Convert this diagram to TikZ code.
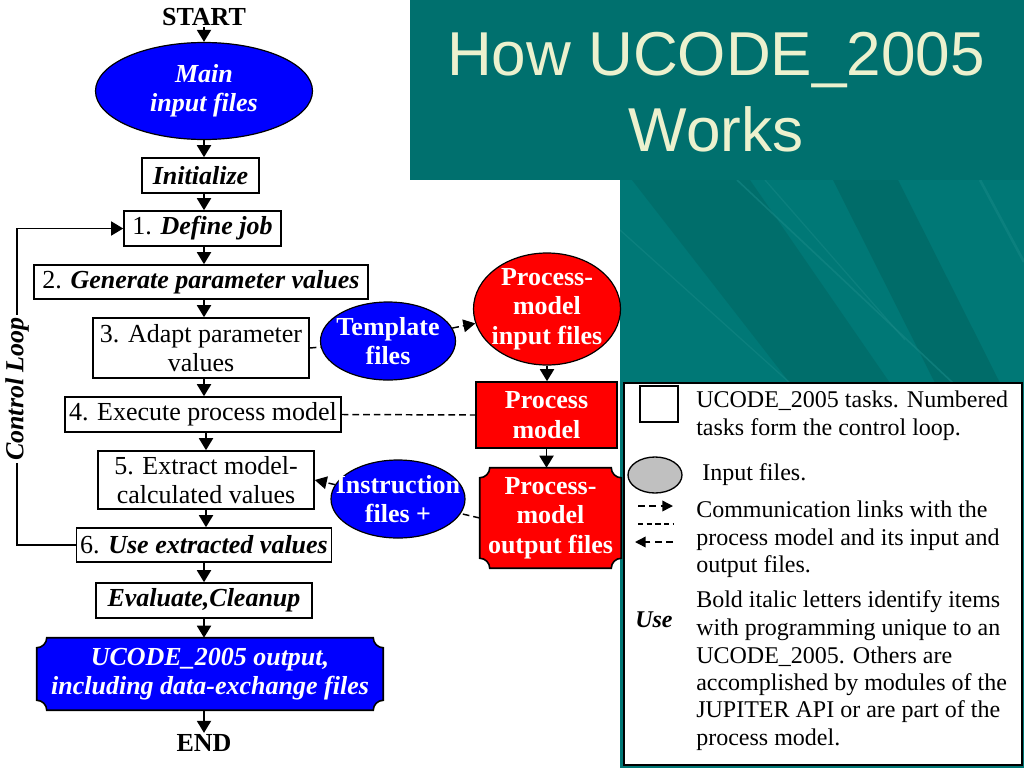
\documentclass[tikz,border=0pt]{standalone}
\usepackage{fontspec}
\setmainfont{Liberation Serif}
\newfontfamily\ttlfont{Liberation Sans}
\usetikzlibrary{shapes.geometric,arrows.meta,backgrounds}
\definecolor{tealA}{RGB}{0,112,110}
\definecolor{tealB}{RGB}{0,120,118}
\definecolor{tealD}{RGB}{0,108,105}
\definecolor{tealL}{RGB}{22,136,134}
\definecolor{cream}{RGB}{236,241,206}
\definecolor{pblue}{RGB}{0,0,255}
\definecolor{pred}{RGB}{255,0,0}
\definecolor{lgray}{RGB}{192,192,192}
\newcommand\myBody{\fontsize{19.5pt}{22pt}\selectfont}
\newcommand\myLeg{\fontsize{18pt}{20.6pt}\selectfont}
\newcommand\myTitle{\ttlfont\fontsize{46.5pt}{56pt}\selectfont}
\newcommand\bitx[1]{\textbf{\textit{#1}}}
\newcommand\scallop[3]{%
  \draw[line width=1.2pt,fill=#3] ([xshift=#2]#1.north west) -- ([xshift=-#2]#1.north east)
    arc[start angle=180,end angle=270,radius=#2] -- ([yshift=#2]#1.south east)
    arc[start angle=90,end angle=180,radius=#2] -- ([xshift=#2]#1.south west)
    arc[start angle=0,end angle=90,radius=#2] -- ([yshift=-#2]#1.north west)
    arc[start angle=270,end angle=360,radius=#2] -- cycle;}
\begin{document}
\begin{tikzpicture}[x=0.75pt,y=-0.75pt,
  sz/.style 2 args={minimum width=#1*0.75pt,minimum height=#2*0.75pt},
  task/.style={draw,line width=1.2pt,fill=white,inner sep=0pt,align=center,font=\myBody},
  plain/.style={inner sep=1pt,font=\myBody\bfseries},
  oval/.style={ellipse,draw,line width=0.9pt,inner sep=0pt},
  intext/.style={text=white,align=center,inner sep=0pt,font=\myBody\bfseries},
  arr/.style={line width=1.4pt,-{Triangle[length=9pt,width=10.5pt]}},
  dsh/.style={line width=1.1pt,dash pattern=on 5pt off 3pt},
  dsharr/.style={dsh,-{Triangle[length=9pt,width=9.5pt]}},
  leg/.style={anchor=base west,inner sep=0pt,font=\myLeg}]
\useasboundingbox (0,0) rectangle (1024,768);
\begin{scope}[on background layer]
  \fill[white] (0,0) rectangle (1024,768);
  \fill[tealA] (410,0) rectangle (1024,180);
  \begin{scope}
    \clip (620,180) rectangle (1024,768);
    \fill[tealB] (620,180) rectangle (1024,768);
    \fill[tealD,opacity=.8] (632,180) -- (750,180) -- (890,383) -- (790,383) -- cycle;
    \fill[tealD] (833,180) -- (898,180) -- (1000,383) -- (935,383) -- cycle;
    \draw[tealL,line width=1.2pt,opacity=.6] (737,180) -- (953,383);
    \draw[tealL,line width=1pt,opacity=.5] (765,180) -- (905,340);
    \draw[tealL,line width=2pt,opacity=.5] (980,180) -- (1024,262);
    \draw[tealL,line width=1pt,opacity=.5] (620,230) -- (790,383);
  \end{scope}
\end{scope}

% title
\node[font=\myTitle,text=cream,anchor=base,inner sep=0pt] (t1) at (716,75) {How UCODE\_2005};
\node[font=\myTitle,text=cream,anchor=base,inner sep=0pt] (t2) at (716,151) {Works};

% flow chart
\node[plain] (start) at (204,17) {START};
\node[oval,fill=pblue,sz={217}{97},
  label={[intext,font=\myBody\bfseries\itshape]center:{Main\\input files}}] (main) at (204,91) {};
\node[task,sz={117}{35},font=\myBody\bfseries\itshape] (init) at (200.5,175.5) {Initialize};
\node[task,sz={157}{35}] (b1) at (202.5,228.5) {1. \bitx{Define job}};
\node[task,sz={334}{34}] (b2) at (201,282) {2. \bitx{Generate parameter values}};
\node[task,sz={216}{60}] (b3) at (201,348) {3. Adapt parameter\\values};
\node[task,sz={276}{35}] (b4) at (203,414.5) {4. Execute process model};
\node[task,sz={216}{58}] (b5) at (206,480) {5. Extract model-\\calculated values};
\node[task,sz={255}{34}] (b6) at (204,545) {6. \bitx{Use extracted values}};
\node[task,sz={216}{35},font=\myBody\bfseries\itshape] (eval) at (204,600.5) {Evaluate,Cleanup};
\node[sz={346}{72},inner sep=0pt,text=white,align=center,font=\myBody\bfseries\itshape] (out) at (210,674)
  {UCODE\_2005 output,\\including data-exchange files};
\node[plain] (end) at (204,743) {END};

% file nodes
\node[oval,fill=pblue,sz={135}{78},
  label={[intext]center:{Template\\files}}] (tmpl) at (388,341) {};
\node[oval,fill=pred,sz={147}{112},
  label={[intext]center:{Process-\\model\\input files}}] (pmin) at (547,309) {};
\node[draw,line width=1.2pt,fill=pred,sz={141}{66},inner sep=0pt,text=white,align=center,font=\myBody\bfseries] (pm) at (546.5,415) {Process\\model};
\node[sz={141}{100},inner sep=0pt,text=white,align=center,font=\myBody\bfseries] (pmout) at (550.5,518) {Process-\\model\\output files};
\node[oval,fill=pblue,sz={134}{78},
  label={[intext]center:{Instruction\\files +}}] (instr) at (398,499) {};

\begin{scope}[on background layer]
  \scallop{out}{7.5pt}{pblue}
  \scallop{pmout}{7.5pt}{pred}
\end{scope}

% main arrows
\draw[arr] (start.south) -- (start.south |- main.north);
\draw[arr] (main.south) -- (main.south |- init.north);
\draw[arr] (main.south |- init.south) -- (main.south |- b1.north);
\draw[arr] (main.south |- b1.south) -- (main.south |- b2.north);
\draw[arr] (main.south |- b2.south) -- (main.south |- b3.north);
\draw[arr] (main.south |- b3.south) -- (main.south |- b4.north);
\draw[arr] (b5.south |- b4.south) -- (b5.south |- b5.north);
\draw[arr] (b5.south) -- (b5.south |- b6.north);
\draw[arr] (b6.south) -- (b6.south |- eval.north);
\draw[arr] (eval.south) -- (eval.south |- out.north);
\draw[arr] (eval.south |- out.south) -- (eval.south |- end.north);

% control loop
\coordinate (lx) at (17,389);
\draw[line width=1.2pt,-{Triangle[length=9pt,width=10.5pt]}] (b6.west) -- (b6.west -| lx) -- (lx |- b1.west) -- (b1.west);
\node[rotate=90,fill=white,inner sep=1.5pt,font=\myBody\bfseries\itshape] (cl) at (lx) {Control Loop};

% process model links
\draw[arr] (pmin.south) -- (pmin.south |- pm.north);
\draw[arr] (pm.south) -- (pm.south |- pmout.north);
\draw[dsh] (b3.east) -- (tmpl);
\draw[dsharr] (tmpl) -- (pmin);
\draw[dsh] (b4.east) -- (pm.west);
\draw[dsh] (pmout.west) -- (instr);
\draw[dsharr] (instr) -- (b5.east);

% legend
\node[draw,line width=1pt,fill=white,sz={398}{382},inner sep=0pt] (legend) at (823,574) {};
\node[draw,line width=1pt,sz={38}{36},inner sep=0pt] (lsq) at (659,404) {};
\node[leg] (lg1a) at (696,407) {UCODE\_2005 tasks. Numbered};
\node[leg] (lg1b) at (696,435) {tasks form the control loop.};
\node[ellipse,draw,line width=1pt,fill=lgray,sz={54}{36},inner sep=0pt] (lell) at (655,475) {};
\node[leg] (lg2) at (702,480) {Input files.};
\coordinate (la1) at (638,506); \coordinate (la2) at (673,506);
\coordinate (lb1) at (638,524); \coordinate (lb2) at (673,524);
\coordinate (lc1) at (673,542); \coordinate (lc2) at (635,542);
\draw[line width=1.1pt,dash pattern=on 5pt off 3.5pt,-{Triangle[length=8pt,width=8pt]}] (la1) -- (la2);
\draw[line width=0.8pt,dash pattern=on 4pt off 2.5pt] (lb1) -- (lb2);
\draw[line width=1.1pt,dash pattern=on 5pt off 3.5pt,-{Triangle[length=8pt,width=8pt]}] (lc1) -- (lc2);
\node[leg] (lg3a) at (696,517) {Communication links with the};
\node[leg] (lg3b) at (696,545) {process model and its input and};
\node[leg] (lg3c) at (696,572) {output files.};
\node[leg,font=\myLeg\bfseries\itshape] (luse) at (635,627) {Use};
\node[leg] (lg4a) at (696,607) {Bold italic letters identify items};
\node[leg] (lg4b) at (696,635) {with programming unique to an};
\node[leg] (lg4c) at (696,663) {UCODE\_2005. Others are};
\node[leg] (lg4d) at (696,690) {accomplished by modules of the};
\node[leg] (lg4e) at (696,717) {JUPITER API or are part of the};
\node[leg] (lg4f) at (696,745) {process model.};
\end{tikzpicture}
\end{document}
